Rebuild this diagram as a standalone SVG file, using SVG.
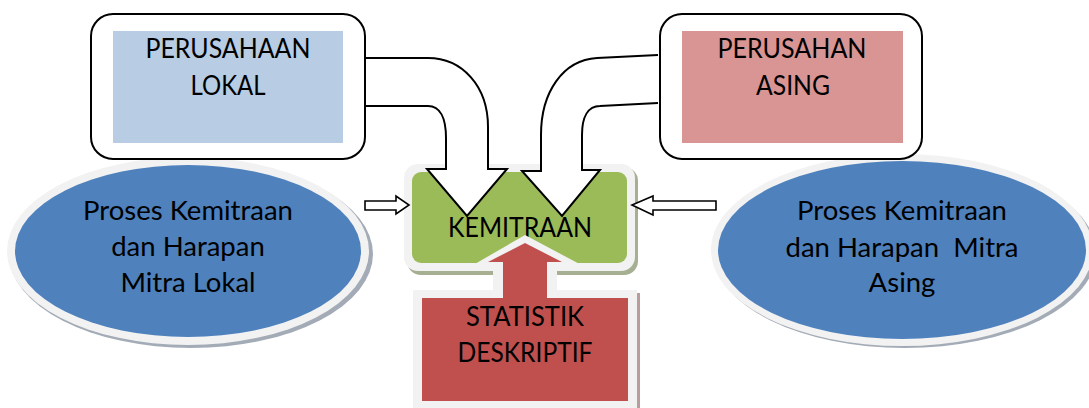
<svg xmlns="http://www.w3.org/2000/svg" width="1089" height="408" viewBox="0 0 1089 408">
<style>
text{font-family:Lato,"Liberation Sans",sans-serif;fill:#000;text-anchor:middle}
.cap{font-size:26px}
.low{font-size:27.5px;white-space:pre}
.callout{fill:#fff;stroke:#000;stroke-width:2}
.halo{fill:#f2f2f2}
.arrow{fill:#fff;stroke:#000;stroke-width:2;stroke-linejoin:miter}
.small{fill:#fff;stroke:#000;stroke-width:1.6}
</style>
<rect width="1089" height="408" fill="#fff"/>

<g id="ellipse-lokal">
<ellipse cx="191" cy="254" rx="182" ry="94" fill="#a3abb7"/>
<ellipse class="halo" cx="188" cy="251" rx="181" ry="94"/>
<ellipse cx="188" cy="251" rx="173" ry="86" fill="#4f81bd"/>
<text class="low" x="188" y="220">Proses Kemitraan</text>
<text class="low" x="188" y="256">dan Harapan</text>
<text class="low" x="188" y="292">Mitra Lokal</text>
</g>

<g id="ellipse-asing">
<ellipse cx="905" cy="253" rx="191" ry="95" fill="#a3abb7"/>
<ellipse class="halo" cx="902" cy="250" rx="191" ry="96"/>
<ellipse cx="902" cy="250" rx="184" ry="89" fill="#4f81bd"/>
<text class="low" x="902" y="220">Proses Kemitraan</text>
<text class="low" x="902" y="257">dan Harapan  Mitra</text>
<text class="low" x="902" y="292">Asing</text>
</g>

<g id="kemitraan">
<rect x="407" y="167" width="231" height="108" rx="14" fill="#a7af93"/>
<rect class="halo" x="404" y="164" width="231" height="107" rx="14"/>
<rect x="412" y="172" width="215" height="91" rx="9" fill="#9bbb59"/>
<text class="cap" x="520" y="237" textLength="144" lengthAdjust="spacingAndGlyphs">KEMITRAAN</text>
</g>

<g id="statistik">
<path d="M416,293 H640 V408 H416 Z" fill="#b99c9c"/>
<path class="halo" d="M413,290 H493 V268 H468 L525,235 L587,268 H557 V290 H637 V408 H413 Z"/>
<path d="M422,298 H503 V262 H488 L525,243 L562,262 H547 V298 H628 V401 H422 Z" fill="#c0504d"/>
<text class="cap" x="525" y="326" textLength="118" lengthAdjust="spacingAndGlyphs">STATISTIK</text>
<text class="cap" x="525" y="362" textLength="135" lengthAdjust="spacingAndGlyphs">DESKRIPTIF</text>
</g>

<g id="connectors">
<path class="arrow" d="M365,58 H428 C462,58 488,86 488,127 V169 H507 L467,216 L427,169 H446 V138 C446,118 440,106 428,106 H365"/>
<path class="arrow" d="M658,55 L597,58 C563,60 541,92 541,135 V171 H522 L562,216 L600,170 H582 V135 C582,117 588,106 600,106 L658,103"/>
<path class="small" d="M365,201 H396 V196 L409,205 L396,214 V210 H365 Z"/>
<path class="small" d="M716,201 H653 V196 L632,205 L653,215 V210 H716 Z"/>
</g>

<g id="perusahaan-lokal">
<rect class="callout" x="91" y="14" width="274" height="145" rx="22"/>
<rect x="113" y="31" width="230" height="112" fill="#b8cce4"/>
<text class="cap" x="228" y="58" textLength="165" lengthAdjust="spacingAndGlyphs">PERUSAHAAN</text>
<text class="cap" x="228" y="95" textLength="75" lengthAdjust="spacingAndGlyphs">LOKAL</text>
</g>

<g id="perusahan-asing">
<rect class="callout" x="660" y="14" width="262" height="145" rx="22"/>
<rect x="682" y="31" width="221" height="112" fill="#d99594"/>
<text class="cap" x="792" y="58" textLength="149" lengthAdjust="spacingAndGlyphs">PERUSAHAN</text>
<text class="cap" x="793" y="95" textLength="74" lengthAdjust="spacingAndGlyphs">ASING</text>
</g>
</svg>
